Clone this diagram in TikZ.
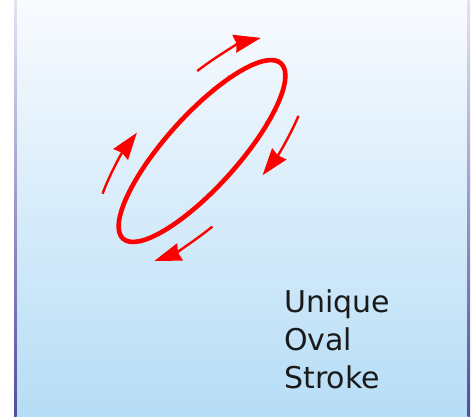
\documentclass[tikz,border=0pt]{standalone}
\usepackage{fontspec}
\newfontfamily\labfont{DejaVu Sans}
\usetikzlibrary{arrows.meta,decorations.pathmorphing}
\definecolor{topfill}{HTML}{F9FBFE}
\definecolor{botfill}{HTML}{B6DDF6}
\definecolor{edgetop}{HTML}{E6E2F2}
\definecolor{edgebot}{HTML}{4E4EA2}
\definecolor{ovalred}{HTML}{FF0000}
\definecolor{txt}{HTML}{1A1A1A}
\tikzset{
  flowarrow/.style={draw=ovalred, line width=2.4pt,
    -{Stealth[length=27pt,width=18pt,inset=2pt]}},
  ovalstroke/.style={draw=ovalred, line width=4.6pt},
  fuzz/.style={draw=ovalred!75, line width=0.7pt,
    decorate, decoration={random steps, segment length=1.2pt, amplitude=1.6pt}},
  label/.style={font=\labfont\fontsize{30pt}{38pt}\selectfont, text=txt,
    align=left, inner sep=0pt}
}
\begin{document}
\begin{tikzpicture}[x=1pt,y=1pt]
\useasboundingbox (0,0) rectangle (475,-416);
\fill[white] (0,0) rectangle (475,-416);
% panel
\shade[top color=topfill, bottom color=botfill] (15,0) rectangle (469,-416);
\shade[top color=edgetop, bottom color=edgebot] (14,0) rectangle (16.5,-416);
\shade[top color=edgetop, bottom color=edgebot] (467.5,0) rectangle (470,-416);
% oval
\coordinate (c) at (202,-151);
\begin{scope}[shift={(c)}, rotate=48]
  \draw[fuzz] (0,0) ellipse [x radius=118, y radius=36];
  \draw[ovalstroke] (0,0) ellipse [x radius=118, y radius=36];
  \draw[flowarrow] (67:144 and 62) arc [start angle=67, end angle=31, x radius=144, y radius=62];
  \draw[flowarrow] (-51:144 and 62) arc [start angle=-51, end angle=-81, x radius=144, y radius=62];
  \draw[flowarrow] (250:144 and 62) arc [start angle=250, end angle=218, x radius=144, y radius=62];
  \draw[flowarrow] (133:144 and 62) arc [start angle=133, end angle=102, x radius=144, y radius=62];
\end{scope}
% label
\node[label, anchor=base west] (lbl) at (284,-388) {Unique\\Oval\\Stroke};
\end{tikzpicture}
\end{document}
